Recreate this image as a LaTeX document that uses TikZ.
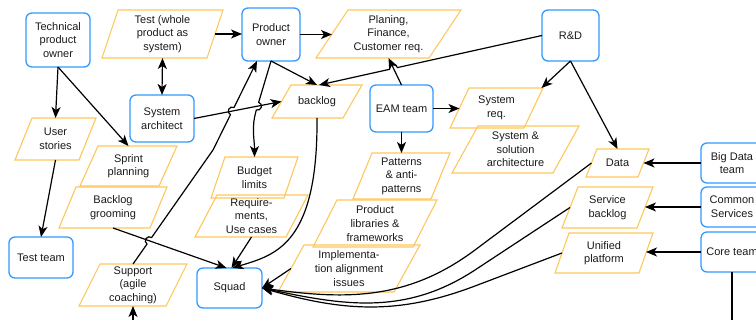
\documentclass[tikz,border=0pt]{standalone}
\usepackage{fontspec}
\setmainfont{Liberation Sans}
\usetikzlibrary{calc,arrows.meta}
\definecolor{boxblue}{HTML}{3399FF}
\definecolor{paraorange}{HTML}{FFC65C}
\definecolor{ink}{HTML}{1A1A1A}
\tikzset{
  lbl/.style={font=\fontsize{11}{13.6}\selectfont, text=ink, align=center},
  team/.style={lbl, draw=boxblue, line width=1.3pt, rounded corners=6pt, inner sep=0pt, outer sep=0pt},
  ptext/.style={lbl, rectangle, inner sep=0pt, outer sep=0pt},
  pline/.style={draw=paraorange, line width=1.1pt},
  conn/.style={line width=1.2pt, draw=black},
  arr/.style={conn, -{Stealth[length=11pt,width=9pt,inset=3pt]}},
  arrboth/.style={conn, {Stealth[length=11pt,width=9pt,inset=3pt]}-{Stealth[length=11pt,width=9pt,inset=3pt]}},
}
% parallelogram: name, cx, cy (down), total width, height, skew, text
\newcommand{\pgram}[7]{%
  \node[ptext, minimum width=#4-#6, minimum height=#5] (#1) at (#2,-#3) {#7};
  \draw[pline] ($(#1.north west)+(#6/2,0)$) -- ($(#1.north east)+(#6/2,0)$)
    -- ($(#1.south east)-(#6/2,0)$) -- ($(#1.south west)-(#6/2,0)$) -- cycle;}
\begin{document}
\begin{tikzpicture}[x=1pt,y=1pt]
\useasboundingbox (0,0) rectangle (756,-320);
\clip (0,0) rectangle (756,-320);

% rounded team boxes
\node[team, minimum width=64, minimum height=54] (tpo) at (58,-40) {Technical\\product\\owner};
\node[team, minimum width=58, minimum height=53] (po) at (271,-34.5) {Product\\owner};
\node[team, minimum width=57, minimum height=51] (rd) at (570.5,-35.5) {R\&D};
\node[team, minimum width=64, minimum height=47] (sa) at (162,-118.5) {System\\architect};
\node[team, minimum width=63, minimum height=47] (eam) at (401.5,-108.5) {EAM team};
\node[team, minimum width=64, minimum height=41] (tt) at (41,-257.5) {Test team};
\node[team, minimum width=65, minimum height=40] (squad) at (229.5,-288) {Squad};
\node[team, minimum width=62, minimum height=40] (bd) at (732,-163) {Big Data\\team};
\node[team, minimum width=62, minimum height=40] (cs) at (732,-207) {Common\\Services};
\node[team, minimum width=62, minimum height=40] (core) at (732,-252) {Core team};

% artefacts
\pgram{test}{162.5}{34}{121}{48}{16}{Test (whole\\product as\\system)}
\pgram{pl}{388.5}{34}{145}{48}{32}{Planing,\\Finance,\\Customer req.}
\pgram{bk}{317}{101.5}{90}{33}{19}{backlog}
\pgram{sr}{496.5}{108}{93}{40}{19}{System\\req.}
\pgram{ssa}{515.5}{149.5}{127}{47}{26}{System \&\\solution\\architecture}
\pgram{data}{617.5}{163}{63}{28}{11}{Data}
\pgram{sb}{607.5}{207.5}{91}{41}{16}{Service\\backlog}
\pgram{up}{604}{253}{98}{40}{14}{Unified\\platform}
\pgram{us}{55.5}{139}{81}{42}{17}{User\\stories}
\pgram{sp}{128.5}{166}{97}{40}{18}{Sprint\\planning}
\pgram{bg}{113}{207.5}{108}{41}{17}{Backlog\\grooming}
\pgram{sup}{133}{285}{108}{42}{21}{Support\\(agile\\coaching)}
\pgram{bl}{254.5}{177.5}{87}{41}{14}{Budget\\limits}
\pgram{req}{251.5}{216}{113}{42}{22}{Require-\\ments,\\Use cases}
\pgram{pat}{401.5}{176}{97}{46}{19}{Patterns\\\& anti-\\patterns}
\pgram{pli}{375}{223.5}{124}{47}{24}{Product\\libraries \&\\frameworks}
\pgram{impl}{349}{268.5}{142}{47}{26}{Implementa-\\tion alignment\\issues}

% crossing points where a connector jumps over another
\coordinate (h1) at (149.3,-240.8);
\coordinate (h2) at (232.25,-111.07);
\coordinate (h3) at (257.5,-106.16);
\coordinate (h4) at (393.5,-68.45);
\coordinate (bend) at (213,-150);
\coordinate (supin) at (133,-330);

% connectors
\draw[arr] (test.east) -- (test.east -| po.west);
\draw[arrboth] (test.south) -- (sa.north);
\draw[arr] (tpo.south) -- (us.north);
\draw[arr] (tpo.south) -- (sp.north);
\draw[arr] (us.south) -- (tt.north);
\draw[arr] (po.east) -- (po.east -| pl.west);
\draw[arr] (po.south) -- (bk.north);
\draw[arr] (sa.east) -- (bk.west);
\draw[arr] (bg.south) -- ($(squad.north)+(-3,0)$);
\draw[arr] (sup.north) -- ($(h1)+(234.9:4pt)$) arc[start angle=234.9, end angle=54.9, radius=4pt]
  -- (bend) -- ($(h2)+(243.69:4pt)$) arc[start angle=243.69, end angle=63.69, radius=4pt]
  -- ($(po.south)+(-14,0)$);
\draw[arr] (po.south) -- ($(h3)+(73.36:4pt)$) arc[start angle=73.36, end angle=-106.64, radius=4pt]
  to[out=253.36, in=90] (bl.north);
\draw[arr] (bk.south) .. controls (318,-245) and (275,-255) .. ($(squad.north)+(3,0)$);
\draw[arr] (req.south) -- ($(squad.north)+(2,0)$);
\draw[arr] (impl.west) -- (squad.east);
\draw[arr] (eam.north) -- (pl.south);
\draw[arr] (rd.west) -- ($(h4)+(12.5:4pt)$) arc[start angle=12.5, end angle=192.5, radius=4pt]
  -- ($(bk.north)+(2,0)$);
\draw[arr] (eam.east) -- (eam.east -| sr.west);
\draw[arr] (eam.south) -- (eam.south |- pat.north);
\draw[arr] (rd.south) -- ($(sr.north east)+(8,0)$);
\draw[arr] (rd.south) -- (data.north);
\draw[arr] (bd.west) -- (bd.west -| data.east);
\draw[arr] (cs.west) -- (cs.west -| sb.east);
\draw[arr] (core.west) -- (core.west -| up.east);
\draw[conn] (core.south) -- ++(0,-60);
\draw[arr] (supin) -- (sup.south);
\draw[arr] (data.west) -- (475,-250) to[out=216.75, in=-8] (squad.east);
\draw[arr] (sb.west) -- (475,-270) to[out=213.3, in=-12] (squad.east);
\draw[arr] (up.west) -- (475,-286) to[out=200.8, in=-16] (squad.east);
\end{tikzpicture}
\end{document}
